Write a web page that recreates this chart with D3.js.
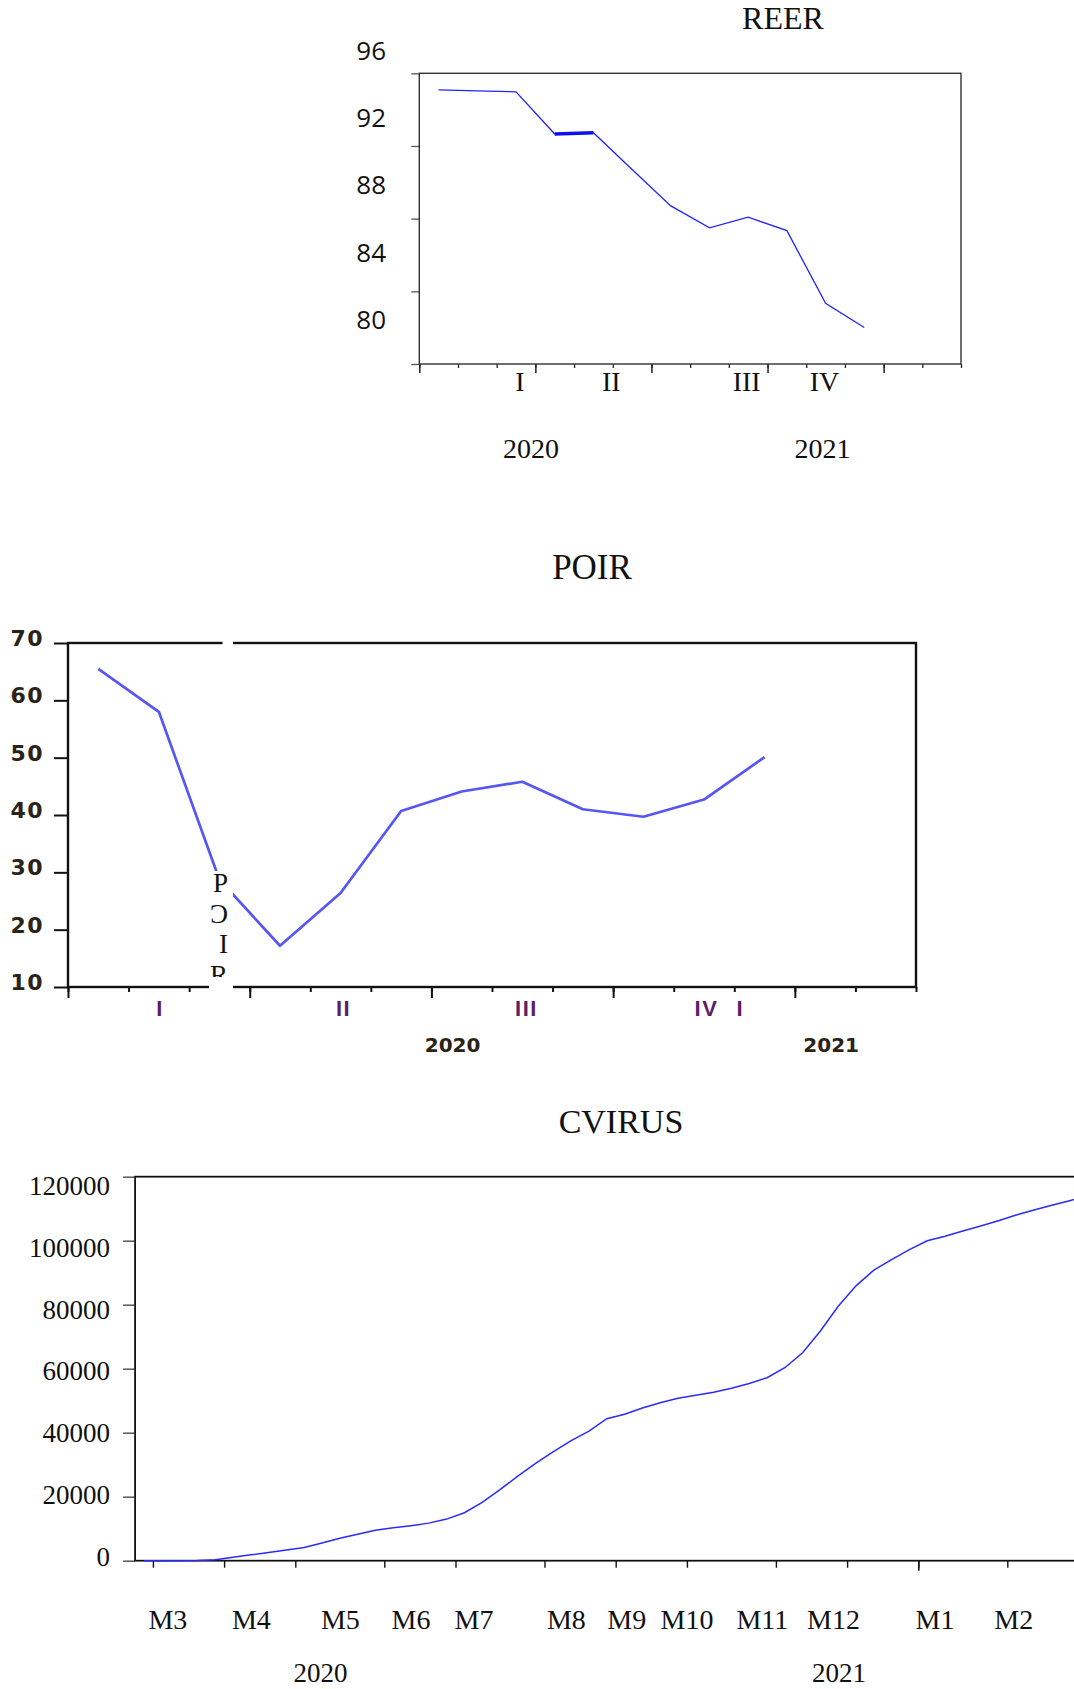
<!DOCTYPE html>
<html lang="en">
<head>
    <meta charset="UTF-8" />
    <title>REER, POIR, CVIRUS</title>
    <style>
        body { margin: 0; background: #fff; }
        svg { display: block; }
        .serif { font-family: "Liberation Serif", "Times New Roman", "DejaVu Serif", serif; fill: #111; }
    </style>
</head>
<body>
<div id="container"></div>
<script src="https://cdnjs.cloudflare.com/ajax/libs/d3/7.8.5/d3.min.js"></script>
<script>
    // ---------- data ----------
    // REER, monthly 2020
    const reerPeriods = ["2020M01", "2020M02", "2020M03", "2020M04", "2020M05", "2020M06",
        "2020M07", "2020M08", "2020M09", "2020M10", "2020M11", "2020M12"];
    const reerValues = [95.09, 95.03, 94.98, 92.66, 92.73, 90.70, 88.70, 87.49, 88.08, 87.34, 83.34, 82.01];
    const reerYTicks = [80, 84, 88, 92, 96];
    const reerQuarterLabels = ["I", "II", "III", "IV"];
    const reerQuarterAt = [2.6, 4.96, 8.46, 10.47];
    const reerYearLabels = ["2020", "2021"];
    const reerYearAt = [2.89, 10.42];

    // POIR, monthly 2020
    const poirPeriods = reerPeriods;
    const poirValues = [65.5, 58.0, 28.7, 17.2, 26.4, 40.7, 44.1, 45.8, 41.0, 39.7, 42.7, 50.1];
    const poirYTicks = [10, 20, 30, 40, 50, 60, 70];
    const poirQuarterLabels = ["I", "II", "III", "IV", "I"];
    const poirQuarterAt = [1.52, 4.55, 7.57, 10.54, 11.1];
    const poirYearLabels = ["2020", "2021"];
    const poirYearAt = [6.35, 12.6];
    const poirSideText = "PƆIR";

    // CVIRUS, weekly cumulative cases (Fridays from 2020-02-28)
    const cvirusValues = [0, 0, 0, 50, 300, 1100, 1830, 2570, 3350, 4140,
        5550, 7020, 8280, 9540, 10270, 10950, 11740, 13000, 14990, 18240,
        22220, 26410, 30390, 34100, 37500, 40470, 44380, 45750, 47720, 49380,
        50740, 51690, 52620, 53880, 55370, 57190, 60310, 65000, 71780, 79500,
        85900, 90800, 94100, 97200, 99970, 101400, 103030, 104590, 106250, 108030,
        109590, 111060, 112500, 113900];
    const cvirusYTicks = [0, 20000, 40000, 60000, 80000, 100000, 120000];
    const cvirusMonthLabels = ["M3", "M4", "M5", "M6", "M7", "M8", "M9", "M10", "M11", "M12", "M1", "M2"];
    const cvirusMonthAt = [1.34, 6.03, 11.03, 15.0, 18.54, 23.73, 27.12, 30.51, 34.74, 38.74, 44.44, 48.86];
    const cvirusYearLabels = ["2020", "2021"];
    const cvirusYearAt = [9.92, 39.04];

    const svg = d3.select("#container").append("svg").attr("width", 1074).attr("height", 1689);
    svg.append("rect").attr("width", 1074).attr("height", 1689).attr("fill", "#fff");

    function ticks(g, axis, color, width) {
        g.call(axis);
        g.select(".domain").remove();
        g.selectAll(".tick line").attr("stroke", color).attr("stroke-width", width);
    }

    // ---------- REER ----------
    {
        const left = 419.3, right = 961, top = 73.3, bottom = 364;
        const x = d3.scaleLinear().domain([0, 14]).range([left, right]);
        const y = d3.scaleLinear().domain([80, 96]).range([bottom, top]);
        // labels were set slightly off the ticks in the original
        const yLab = d3.scaleLinear().domain([80, 96]).range([320, 50.2]);
        const g = svg.append("g");

        g.append("text").attr("class", "serif").attr("x", 783).attr("y", 29)
            .attr("text-anchor", "middle").style("font-size", "32px").text("REER");

        ticks(g.append("g").attr("transform", `translate(${left},0)`),
            d3.axisLeft(y).tickValues(reerYTicks).tickSize(8).tickFormat(""), "#555", 1.3);
        ticks(g.append("g").attr("transform", `translate(0,${bottom})`),
            d3.axisBottom(x).tickValues(d3.range(0, 15)).tickSize(4).tickFormat(""), "#222", 1.3);
        ticks(g.append("g").attr("transform", `translate(0,${bottom})`),
            d3.axisBottom(x).tickValues([0, 3, 6, 9, 12]).tickSize(9).tickFormat(""), "#222", 1.5);

        g.append("rect").attr("x", left).attr("y", top).attr("width", right - left).attr("height", bottom - top)
            .attr("fill", "none").attr("stroke", "#333").attr("stroke-width", 1.4);

        g.selectAll(".ylab").data(reerYTicks).enter().append("text")
            .attr("x", 386).attr("y", d => yLab(d)).attr("dy", "0.36em")
            .attr("text-anchor", "end")
            .style("font-family", "'Open Sans', 'Noto Sans', sans-serif").style("font-size", "26px")
            .style("fill", "#111").text(d => d);

        g.selectAll(".qlab").data(reerQuarterLabels).enter().append("text").attr("class", "serif")
            .attr("x", (d, i) => x(reerQuarterAt[i])).attr("y", 391)
            .attr("text-anchor", "middle").style("font-size", "28px").text(d => d);
        g.selectAll(".yrlab").data(reerYearLabels).enter().append("text").attr("class", "serif")
            .attr("x", (d, i) => x(reerYearAt[i])).attr("y", 458)
            .attr("text-anchor", "middle").style("font-size", "28px").text(d => d);

        const line = d3.line().x((d, i) => x(i + 0.5)).y(d => y(d));
        g.append("path").datum(reerValues).attr("d", line)
            .attr("fill", "none").attr("stroke", "#2323ff").attr("stroke-width", 1.3);
        // doubled segment between April and May
        const seg = d3.line().x((d, i) => x(i + 3.5)).y(d => y(d));
        g.append("path").datum(reerValues.slice(3, 5)).attr("d", seg)
            .attr("fill", "none").attr("stroke", "#1010ee").attr("stroke-width", 3.4);
    }

    // ---------- POIR ----------
    {
        const left = 68, right = 916, top = 643, bottom = 987;
        const x = d3.scaleLinear().domain([0, 14]).range([left, right]);
        const y = d3.scaleLinear().domain([10, 70]).range([bottom, top]);
        const g = svg.append("g");

        g.append("text").attr("class", "serif").attr("x", 592).attr("y", 579)
            .attr("text-anchor", "middle").style("font-size", "35px").text("POIR");

        const ya = g.append("g").attr("transform", `translate(${left},0)`);
        ticks(ya, d3.axisLeft(y).tickValues(poirYTicks).tickSize(14).tickPadding(10), "#111", 2);
        ya.selectAll(".tick text").attr("dy", "0.12em")
            .style("font-family", "'DejaVu Sans', sans-serif").style("font-weight", "bold")
            .style("font-size", "22px").style("letter-spacing", "1.5px").style("fill", "#2a2418");

        ticks(g.append("g").attr("transform", `translate(0,${bottom})`),
            d3.axisBottom(x).tickValues(d3.range(0, 15)).tickSize(5).tickFormat(""), "#111", 2);
        ticks(g.append("g").attr("transform", `translate(0,${bottom})`),
            d3.axisBottom(x).tickValues([0, 3, 6, 9, 12]).tickSize(11).tickFormat(""), "#111", 2);

        g.append("rect").attr("x", left).attr("y", top).attr("width", right - left).attr("height", bottom - top)
            .attr("fill", "none").attr("stroke", "#111").attr("stroke-width", 2.4);

        g.selectAll(".qlab").data(poirQuarterLabels).enter().append("text")
            .attr("x", (d, i) => x(poirQuarterAt[i])).attr("y", 1016)
            .attr("text-anchor", "middle")
            .style("font-family", "'Liberation Sans', Arial, sans-serif").style("font-size", "22px")
            .style("font-weight", "bold").style("letter-spacing", "1.5px")
            .style("fill", "#5a1f66").text(d => d);
        g.selectAll(".yrlab").data(poirYearLabels).enter().append("text")
            .attr("x", (d, i) => x(poirYearAt[i])).attr("y", 1052)
            .attr("text-anchor", "middle")
            .style("font-family", "'DejaVu Sans', sans-serif").style("font-weight", "bold")
            .style("font-size", "20px").style("fill", "#2a2418").text(d => d);

        const line = d3.line().x((d, i) => x(i + 0.5)).y(d => y(d));
        g.append("path").datum(poirValues).attr("d", line)
            .attr("fill", "none").attr("stroke", "#5656f4").attr("stroke-width", 2.7)
            .attr("stroke-linejoin", "round");

        // pasted side label covering part of the chart
        g.append("rect").attr("x", 222.5).attr("y", 636).attr("width", 10.5).attr("height", 356).attr("fill", "#fff");
        g.append("rect").attr("x", 209).attr("y", 871).attr("width", 24).attr("height", 120).attr("fill", "#fff");
        svg.append("clipPath").attr("id", "sideclip").append("rect")
            .attr("x", 205).attr("y", 868).attr("width", 30).attr("height", 109);
        g.append("g").attr("clip-path", "url(#sideclip)")
            .selectAll("text").data(poirSideText.split("")).enter().append("text").attr("class", "serif")
            .attr("x", 228).attr("y", (d, i) => 892 + i * 30.5)
            .attr("text-anchor", "end").style("font-size", "27px").text(d => d);
    }

    // ---------- CVIRUS ----------
    {
        const left = 135.1, top = 1176.7, bottom = 1560.7, step = 17.8;
        const dates = d3.timeFriday.range(new Date(2020, 1, 28), new Date(2021, 2, 6));
        const x = d3.scaleLinear().domain([-0.5, dates.length - 0.5])
            .range([left, left + dates.length * step]);
        const right = x.range()[1];
        const y = d3.scaleLinear().domain([0, 120000]).range([bottom, top]);
        const yLab = d3.scaleLinear().domain([0, 120000]).range([1557, 1185.5]);
        const g = svg.append("g");

        g.append("text").attr("class", "serif").attr("x", 621).attr("y", 1133)
            .attr("text-anchor", "middle").style("font-size", "34px").text("CVIRUS");

        // month boundaries: first weekly observation of each month
        const monthStarts = [], yearStarts = [];
        dates.forEach((d, i) => {
            if (i > 0 && d.getMonth() !== dates[i - 1].getMonth()) {
                monthStarts.push(i - 0.5);
                if (d.getMonth() === 0) yearStarts.push(i - 0.5);
            }
        });

        ticks(g.append("g").attr("transform", `translate(${left},0)`),
            d3.axisLeft(y).tickValues(cvirusYTicks).tickSize(12).tickFormat(""), "#555", 1.5);
        ticks(g.append("g").attr("transform", `translate(0,${bottom})`),
            d3.axisBottom(x).tickValues(monthStarts).tickSize(7).tickFormat(""), "#111", 1.4);
        ticks(g.append("g").attr("transform", `translate(0,${bottom})`),
            d3.axisBottom(x).tickValues(yearStarts).tickSize(10).tickFormat(""), "#111", 1.6);

        g.append("rect").attr("x", left).attr("y", top).attr("width", right - left).attr("height", bottom - top)
            .attr("fill", "none").attr("stroke", "#111").attr("stroke-width", 1.8);

        g.selectAll(".ylab").data(cvirusYTicks).enter().append("text").attr("class", "serif")
            .attr("x", 110).attr("y", d => yLab(d)).attr("dy", "0.34em")
            .attr("text-anchor", "end").style("font-size", "27px").text(d => d);

        g.selectAll(".mlab").data(cvirusMonthLabels).enter().append("text").attr("class", "serif")
            .attr("x", (d, i) => x(cvirusMonthAt[i])).attr("y", 1629)
            .attr("text-anchor", "middle").style("font-size", "28px").text(d => d);
        g.selectAll(".yrlab").data(cvirusYearLabels).enter().append("text").attr("class", "serif")
            .attr("x", (d, i) => x(cvirusYearAt[i])).attr("y", 1682)
            .attr("text-anchor", "middle").style("font-size", "27px").text(d => d);

        const line = d3.line().x((d, i) => x(i)).y(d => y(d));
        g.append("path").datum(cvirusValues).attr("d", line)
            .attr("fill", "none").attr("stroke", "#2b2bff").attr("stroke-width", 1.5);
    }
</script>
</body>
</html>
